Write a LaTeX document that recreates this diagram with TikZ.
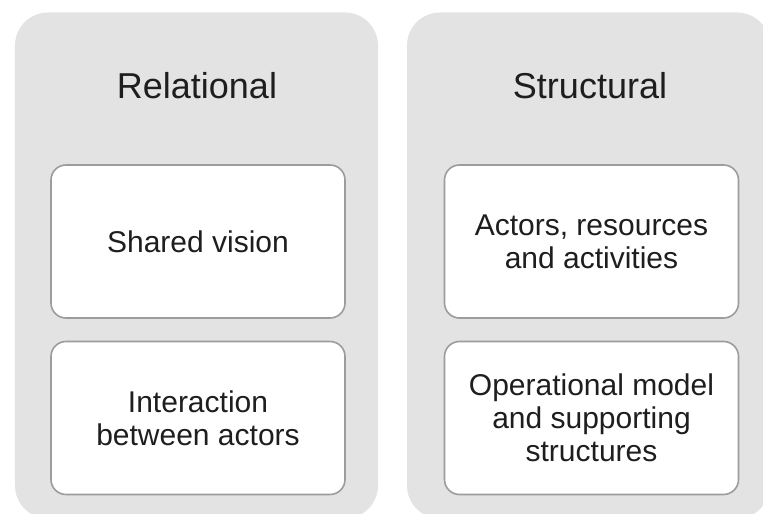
\documentclass[tikz,border=0pt]{standalone}
\usepackage{fontspec}
\setmainfont{Liberation Sans}
\definecolor{panelgray}{HTML}{E3E3E3}
\definecolor{boxline}{HTML}{9C9C9C}
\definecolor{inktext}{HTML}{1E1E1E}
\tikzset{
  panel/.style = {draw = none, fill = panelgray, rounded corners = 33bp,
    minimum width = 363bp, minimum height = 506bp, inner sep = 0pt},
  itembox/.style = {draw = boxline, line width = 1.6bp, fill = white,
    rounded corners = 15bp, minimum width = 294bp, minimum height = 153bp,
    align = center, text = inktext,
    font = \fontsize{30bp}{33bp}\selectfont},
  paneltitle/.style = {text = inktext, font = \fontsize{36bp}{40bp}\selectfont}
}

\begin{document}
\begin{tikzpicture}[x = 1bp, y = -1bp]
\useasboundingbox (0,0) rectangle (763,514);
% left panel
\node[panel] (relpanel) at (196.5,265.5) {};
\node[paneltitle] (reltitle) at (197,86) {Relational};
\node[itembox] (vision) at (198,241.5) {Shared vision};
\node[itembox] (interact) at (198,418) {Interaction\\between actors};
% right panel
\node[panel] (strpanel) at (588.5,265.5) {};
\node[paneltitle] (strtitle) at (590,86) {Structural};
\node[itembox] (actors) at (591.5,241.5) {Actors, resources\\and activities};
\node[itembox] (opmodel) at (591.5,418) {Operational model\\and supporting\\structures};
\end{tikzpicture}
\end{document}
